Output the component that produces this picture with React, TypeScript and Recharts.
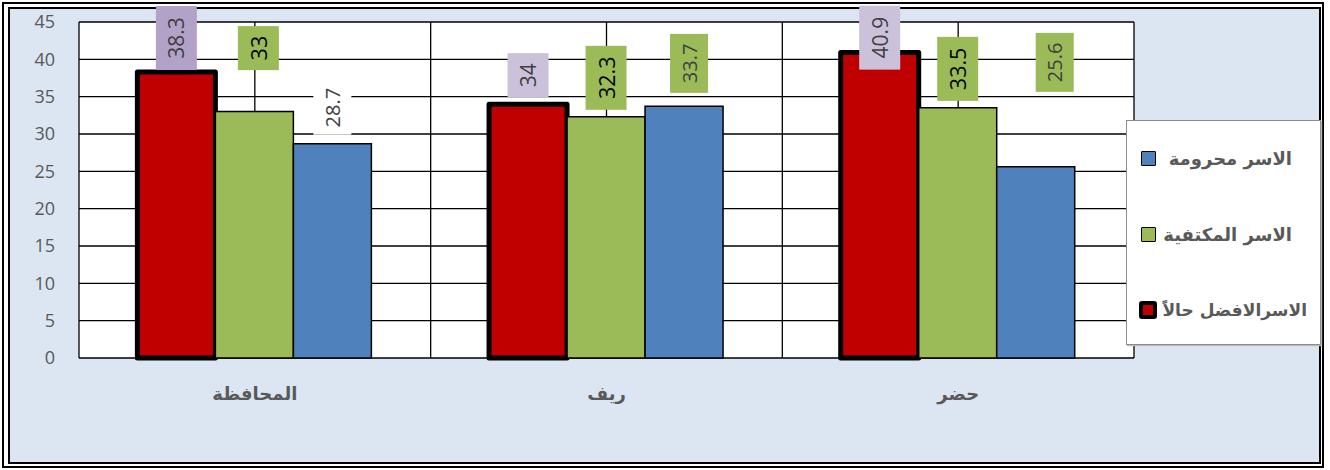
import React from "react"
import { BarChart, Bar, XAxis, YAxis, CartesianGrid, LabelList } from "recharts"

// categories (left to right) and series values
const categories = ["المحافظة", "ريف", "حضر"]
const bestOffValues = [38.3, 34, 40.9]
const sufficientValues = [33, 32.3, 33.5]
const deprivedValues = [28.7, 33.7, 25.6]
const yTicks = [0, 5, 10, 15, 20, 25, 30, 35, 40, 45]

const seriesNames = {
  best: "الاسرالافضل حالاً",
  sufficient: "الاسر المكتفية",
  deprived: "الاسر محرومة",
}

const RED = "#C00000"
const GREEN = "#9BBB59"
const BLUE = "#4F81BD"
const TEXT_GRAY = "#595959"
const ARABIC_FONT = "'DejaVu Sans', sans-serif"
const NUM_FONT = "'Open Sans', 'Liberation Sans', sans-serif"

// hand-placed data label boxes, as in the original sheet
interface LabelStyle {
  lift: number
  dx: number
  w: number
  h: number
  fill: string
  color: string
  size: number
}

const bestLabelStyles: LabelStyle[] = [
  { lift: 2, dx: 0, w: 41, h: 64, fill: "#B3A2C7", color: "#404040", size: 21 },
  { lift: 7, dx: 0, w: 41, h: 44, fill: "#CCC1DA", color: "#404040", size: 21 },
  { lift: -17, dx: 0, w: 41, h: 64, fill: "#CCC1DA", color: "#404040", size: 21 },
]
const sufficientLabelStyles: LabelStyle[] = [
  { lift: 41.5, dx: 4, w: 41, h: 44, fill: GREEN, color: "#000", size: 21.5 },
  { lift: 7, dx: 0, w: 41, h: 64, fill: GREEN, color: "#000", size: 21.5 },
  { lift: 7, dx: 0, w: 41, h: 64, fill: GREEN, color: "#000", size: 21.5 },
]
const deprivedLabelStyles: LabelStyle[] = [
  { lift: 9, dx: 0, w: 38, h: 54, fill: "#FFFFFF", color: "#404040", size: 20 },
  { lift: 13.5, dx: 5, w: 38, h: 59, fill: GREEN, color: "#404040", size: 20 },
  { lift: 75, dx: 19, w: 38, h: 59, fill: GREEN, color: "#404040", size: 20 },
]

const chartData = categories.map((name, i) => ({
  name,
  best: bestOffValues[i],
  sufficient: sufficientValues[i],
  deprived: deprivedValues[i],
}))

const makeLabel = (styles: LabelStyle[]) => (props: any) => {
  const { x, y, width, value, index } = props
  const s = styles[index]
  if (!s) return null
  const cx = Number(x) + Number(width) / 2 + s.dx
  const bottom = Number(y) - s.lift
  const cy = bottom - s.h / 2
  return (
    <g key={`lbl-${index}`}>
      <rect x={cx - s.w / 2} y={bottom - s.h} width={s.w} height={s.h} fill={s.fill} />
      <text
        x={cx}
        y={cy}
        transform={`rotate(-90 ${cx} ${cy})`}
        textAnchor="middle"
        dominantBaseline="central"
        fontFamily={NUM_FONT}
        fontSize={s.size}
        fill={s.color}
      >
        {value}
      </text>
    </g>
  )
}

const CategoryTick = (props: any) => {
  const { x, y, payload } = props
  return (
    <text
      x={x}
      y={y}
      dy={27}
      textAnchor="middle"
      dominantBaseline="central"
      fontFamily={ARABIC_FONT}
      fontWeight="bold"
      fontSize={18}
      fill={TEXT_GRAY}
      direction="rtl"
    >
      {payload.value}
    </text>
  )
}

const legendItems = [
  { label: seriesNames.deprived, color: BLUE, border: 1.5, right: 28, size: 18 },
  { label: seriesNames.sufficient, color: GREEN, border: 1.5, right: 28, size: 18 },
  { label: seriesNames.best, color: RED, border: 4, right: 13, size: 17 },
]

function ChartLegend() {
  return (
    <div
      style={{
        position: "absolute",
        left: 1126,
        top: 120,
        width: 195,
        height: 225,
        boxSizing: "border-box",
        background: "#fff",
        border: "1px solid #8c8c8c",
        boxShadow: "1px 1px 1px #bbb",
      }}
    >
      {legendItems.map((item, i) => (
        <div
          key={item.label}
          style={{ position: "absolute", left: 0, right: 0, top: 38 + i * 75.5, height: 0 }}
        >
          <div
            style={{
              position: "absolute",
              right: item.right,
              top: -12,
              fontFamily: ARABIC_FONT,
              fontWeight: "bold",
              fontSize: item.size,
              lineHeight: "24px",
              color: TEXT_GRAY,
              direction: "rtl",
              whiteSpace: "nowrap",
            }}
          >
            {item.label}
          </div>
          <div
            style={{
              position: "absolute",
              left: item.border > 2 ? 12 : 14,
              top: item.border > 2 ? -9 : -8,
              width: item.border > 2 ? 10 : 13,
              height: item.border > 2 ? 10 : 13,
              background: item.color,
              border: `${item.border}px solid #000`,
              borderRadius: item.border > 2 ? 3 : 1,
            }}
          />
        </div>
      ))}
    </div>
  )
}

export default function App() {
  return (
    <div style={{ position: "relative", width: 1330, height: 470, background: "#fff", overflow: "hidden" }}>
      <style>{"body{margin:0}"}</style>
      <div
        style={{
          position: "absolute",
          left: 2,
          top: 2,
          width: 1322,
          height: 466,
          boxSizing: "border-box",
          border: "2px solid #000",
        }}
      />
      <div
        style={{
          position: "absolute",
          left: 8,
          top: 7,
          width: 1313,
          height: 457,
          boxSizing: "border-box",
          border: "2px solid #000",
          background: "#DCE6F2",
        }}
      />
      <div style={{ position: "absolute", left: 0, top: 0 }}>
        <BarChart
          width={1330}
          height={470}
          data={chartData}
          margin={{ top: 22, right: 196, left: 19, bottom: 62 }}
          barCategoryGap="16.6%"
          barGap={0}
        >
          <CartesianGrid
            fill="#fff"
            stroke="#000"
            strokeWidth={1.3}
            strokeOpacity={1}
            verticalCoordinatesGenerator={({ offset }: any) =>
              [0, 1, 2, 3, 4, 5, 6].map((i) => offset.left + (i * offset.width) / 6)
            }
          />
          <XAxis
            dataKey="name"
            axisLine={false}
            tickLine={false}
            height={50}
            interval={0}
            tick={<CategoryTick />}
          />
          <YAxis
            domain={[0, 45]}
            ticks={yTicks}
            interval={0}
            width={60}
            axisLine={false}
            tickLine={false}
            tickMargin={18}
            tick={{ fontSize: 18, fill: TEXT_GRAY, fontFamily: NUM_FONT }}
          />
          <Bar
            dataKey="best"
            name={seriesNames.best}
            fill={RED}
            stroke="#000"
            strokeWidth={5}
            strokeLinejoin="round"
            isAnimationActive={false}
          >
            <LabelList dataKey="best" content={makeLabel(bestLabelStyles)} />
          </Bar>
          <Bar
            dataKey="sufficient"
            name={seriesNames.sufficient}
            fill={GREEN}
            stroke="#000"
            strokeWidth={1.5}
            isAnimationActive={false}
          >
            <LabelList dataKey="sufficient" content={makeLabel(sufficientLabelStyles)} />
          </Bar>
          <Bar
            dataKey="deprived"
            name={seriesNames.deprived}
            fill={BLUE}
            stroke="#000"
            strokeWidth={1.5}
            isAnimationActive={false}
          >
            <LabelList dataKey="deprived" content={makeLabel(deprivedLabelStyles)} />
          </Bar>
        </BarChart>
      </div>
      <ChartLegend />
    </div>
  )
}
